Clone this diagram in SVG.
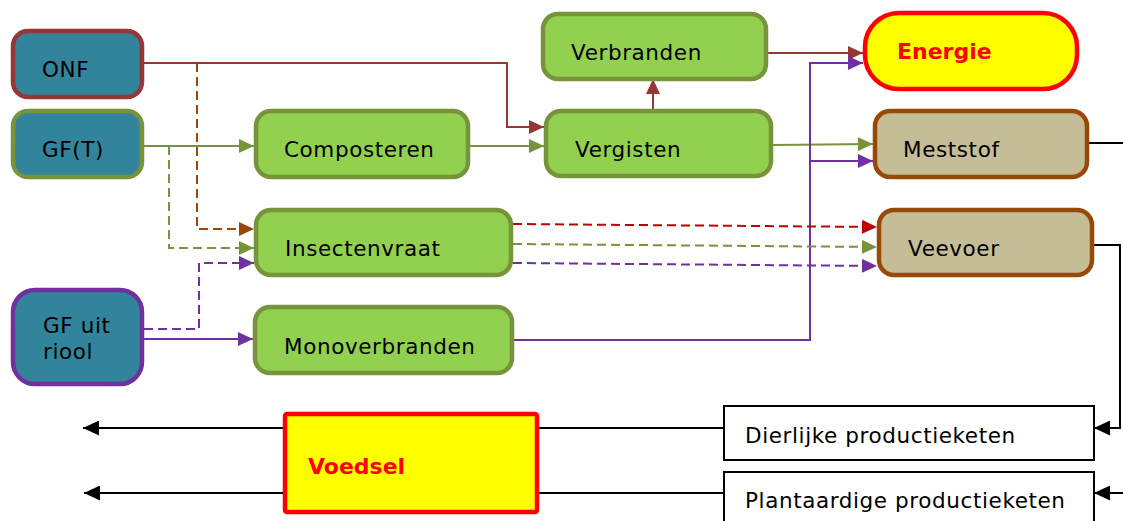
<svg xmlns="http://www.w3.org/2000/svg" width="1123" height="521" viewBox="0 0 1123 521">
<style>
.t{font-family:"DejaVu Sans",Verdana,sans-serif;font-size:21.5px;letter-spacing:0.6px;fill:#000}
.b{font-family:"DejaVu Sans",Verdana,sans-serif;font-size:22px;font-weight:bold;fill:#FF0000}
.src{fill:#31849B;stroke-width:4.5}
.grn{fill:#92D050;stroke:#77933C;stroke-width:4.5}
.tan{fill:#C4BD97;stroke:#984807;stroke-width:4.5}
.yel{fill:#FFFF00;stroke:#FF0000;stroke-width:4.5}
.chain{fill:#fff;stroke:#000;stroke-width:2}
.c{fill:none;stroke-width:2}
.d{stroke-dasharray:9 5}
</style>
<defs>
<marker id="aR" markerUnits="userSpaceOnUse" markerWidth="15" markerHeight="14" refX="15" refY="7" orient="auto"><path d="M0,0 L15,7 L0,14 z" fill="#953735"/></marker>
<marker id="aB" markerUnits="userSpaceOnUse" markerWidth="15" markerHeight="14" refX="15" refY="7" orient="auto"><path d="M0,0 L15,7 L0,14 z" fill="#984807"/></marker>
<marker id="aG" markerUnits="userSpaceOnUse" markerWidth="15" markerHeight="14" refX="15" refY="7" orient="auto"><path d="M0,0 L15,7 L0,14 z" fill="#77933C"/></marker>
<marker id="aP" markerUnits="userSpaceOnUse" markerWidth="15" markerHeight="14" refX="15" refY="7" orient="auto"><path d="M0,0 L15,7 L0,14 z" fill="#7030A0"/></marker>
<marker id="aC" markerUnits="userSpaceOnUse" markerWidth="15" markerHeight="14" refX="15" refY="7" orient="auto"><path d="M0,0 L15,7 L0,14 z" fill="#C00000"/></marker>
<marker id="aK" markerUnits="userSpaceOnUse" markerWidth="16" markerHeight="15" refX="16" refY="7.5" orient="auto"><path d="M0,0 L16,7.5 L0,15 z" fill="#000"/></marker>
</defs>

<g id="connectors">
<path class="c" stroke="#953735" d="M144,63 H507 V127 H544" marker-end="url(#aR)"/>
<path class="c d" stroke="#984807" d="M197,63 V229 H254" marker-end="url(#aB)"/>
<path class="c" stroke="#77933C" d="M144,146 H254" marker-end="url(#aG)"/>
<path class="c d" stroke="#77933C" d="M169,146 V248 H254" marker-end="url(#aG)"/>
<path class="c d" stroke="#7030A0" d="M144,329 H199 V263 H254" marker-end="url(#aP)"/>
<path class="c" stroke="#7030A0" d="M144,339 H253" marker-end="url(#aP)"/>
<path class="c" stroke="#77933C" d="M468,146 H544" marker-end="url(#aG)"/>
<path class="c" stroke="#953735" d="M653,109 V79" marker-end="url(#aR)"/>
<path class="c" stroke="#953735" d="M768,53 H863" marker-end="url(#aR)"/>
<path class="c" stroke="#77933C" d="M773,145 L873,144" marker-end="url(#aG)"/>
<path class="c" stroke="#7030A0" d="M514,340 H810 V63 H863" marker-end="url(#aP)"/>
<path class="c" stroke="#7030A0" d="M810,161 H873" marker-end="url(#aP)"/>
<path class="c d" stroke="#C00000" d="M513,224 L877,227" marker-end="url(#aC)"/>
<path class="c d" stroke="#77933C" d="M513,244 L877,247" marker-end="url(#aG)"/>
<path class="c d" stroke="#7030A0" d="M513,263 L877,266" marker-end="url(#aP)"/>
<path class="c" stroke="#000" d="M1089,143 H1123"/>
<path class="c" stroke="#000" d="M1094,245 H1120 V428 H1094" marker-end="url(#aK)"/>
<path class="c" stroke="#000" d="M1123,493 H1094" marker-end="url(#aK)"/>
<path class="c" stroke="#000" d="M724,428 H539"/>
<path class="c" stroke="#000" d="M285,428 H83" marker-end="url(#aK)"/>
<path class="c" stroke="#000" d="M724,493 H539"/>
<path class="c" stroke="#000" d="M285,493 H84" marker-end="url(#aK)"/>
</g>

<g id="onf"><rect class="src" stroke="#953735" x="13" y="31" width="129" height="66" rx="15"/><text class="t" x="42" y="77">ONF</text></g>
<g id="gft"><rect class="src" stroke="#77933C" x="13" y="111" width="129" height="66" rx="15"/><text class="t" x="42" y="157">GF(T)</text></g>
<g id="gfriool"><rect class="src" stroke="#7030A0" x="13" y="290" width="129" height="94" rx="22"/><text class="t" x="43" y="333">GF uit</text><text class="t" x="43" y="359">riool</text></g>
<g id="composteren"><rect class="grn" x="256" y="111" width="212" height="66" rx="15"/><text class="t" x="284" y="157">Composteren</text></g>
<g id="vergisten"><rect class="grn" x="546" y="111" width="225" height="65" rx="15"/><text class="t" x="575" y="157">Vergisten</text></g>
<g id="verbranden"><rect class="grn" x="543" y="14" width="223" height="65" rx="15"/><text class="t" x="571" y="60">Verbranden</text></g>
<g id="insectenvraat"><rect class="grn" x="256" y="210" width="255" height="65" rx="15"/><text class="t" x="285" y="256">Insectenvraat</text></g>
<g id="monoverbranden"><rect class="grn" x="255" y="307" width="257" height="66" rx="15"/><text class="t" x="284" y="354">Monoverbranden</text></g>
<g id="energie"><rect class="yel" x="865" y="13" width="212" height="76" rx="34"/><text class="b" x="897" y="59">Energie</text></g>
<g id="meststof"><rect class="tan" x="875" y="111" width="212" height="66" rx="15"/><text class="t" x="903" y="157">Meststof</text></g>
<g id="veevoer"><rect class="tan" x="879" y="210" width="213" height="65" rx="15"/><text class="t" x="908" y="256">Veevoer</text></g>
<g id="dierlijke"><rect class="chain" x="724" y="406" width="370" height="54"/><text class="t" x="745" y="443">Dierlijke productieketen</text></g>
<g id="plantaardige"><rect class="chain" x="724" y="472" width="370" height="60"/><text class="t" x="745" y="508">Plantaardige productieketen</text></g>
<g id="voedsel"><rect class="yel" x="285" y="414" width="252" height="98" rx="2"/><text class="b" x="308" y="474">Voedsel</text></g>
</svg>
